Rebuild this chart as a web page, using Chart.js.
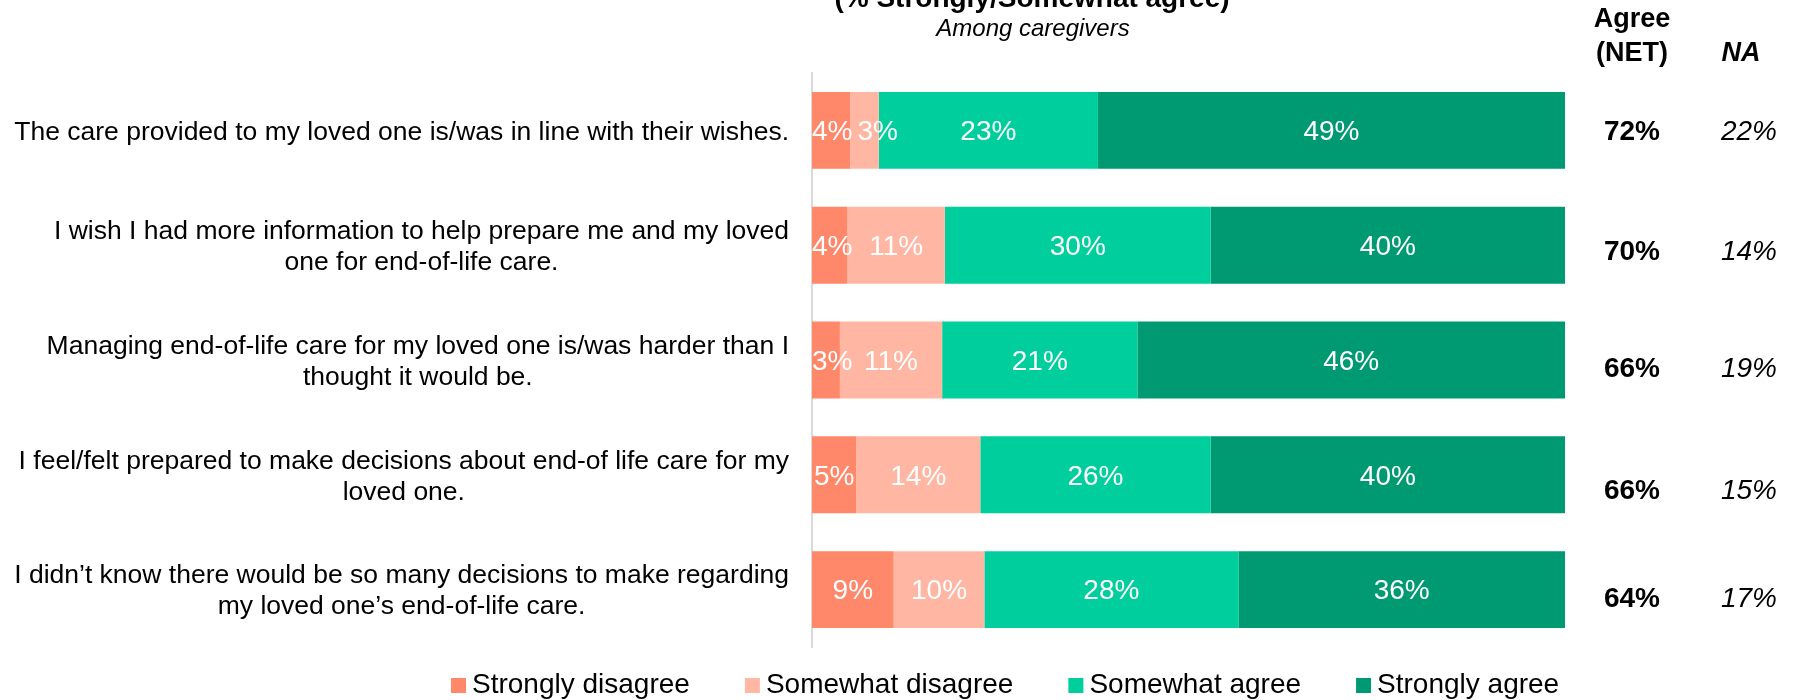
<!DOCTYPE html>
<html>
<head>
<meta charset="utf-8">
<script src="https://cdn.jsdelivr.net/npm/chart.js@4.4.0/dist/chart.umd.min.js"></script>
<style>
  body { margin: 0; background: #fff; }
  #box { width: 1794px; height: 700px; position: relative; }
</style>
</head>
<body>
<div id="box"><canvas id="grafico"></canvas></div>
<script>
const questions = [
  "The care provided to my loved one is/was in line with their wishes.",
  ["I wish I had more information to help prepare me and my loved", "one for end-of-life care."],
  ["Managing end-of-life care for my loved one is/was harder than I", "thought it would be."],
  ["I feel/felt prepared to make decisions about end-of life care for my", "loved one."],
  ["I didn\u2019t know there would be so many decisions to make regarding", "my loved one\u2019s end-of-life care."]
];
const seriesNames = ["Strongly disagree", "Somewhat disagree", "Somewhat agree", "Strongly agree"];
const stronglyDisagree = [4, 4, 3, 5, 9];
const somewhatDisagree = [3, 11, 11, 14, 10];
const somewhatAgree = [23, 30, 21, 26, 28];
const stronglyAgree = [49, 40, 46, 40, 36];
const agreeNet = [72, 70, 66, 66, 64];
const notApplicable = [22, 14, 19, 15, 17];

const colors = ["#FF876A", "#FFB7A4", "#00CE9C", "#009A72"];
const FONT = "'Liberation Sans', Arial, sans-serif";

// bars are shown as 100% stacks (NA excluded), so each row is scaled to its own total
const allSeries = [stronglyDisagree, somewhatDisagree, somewhatAgree, stronglyAgree];
const totals = questions.map((_, i) => allSeries.reduce((s, a) => s + a[i], 0));

const datasets = allSeries.map((vals, k) => ({
  label: seriesNames[k],
  raw: vals,
  data: vals.map((v, i) => v / totals[i] * 100),
  backgroundColor: colors[k],
  borderWidth: 0,
  barPercentage: 0.67,
  categoryPercentage: 1
}));

const segmentLabels = {
  id: "segmentLabels",
  afterDatasetsDraw(chart) {
    const ctx = chart.ctx;
    const left = chart.chartArea.left;
    ctx.save();
    ctx.font = "28px " + FONT;
    ctx.fillStyle = "#fff";
    ctx.textAlign = "left";
    ctx.textBaseline = "middle";
    const lastRight = questions.map(() => left);
    chart.data.datasets.forEach((ds, d) => {
      chart.getDatasetMeta(d).data.forEach((bar, i) => {
        const txt = ds.raw[i] + "%";
        const w = ctx.measureText(txt).width;
        // keep small labels inside the plot and clear of the one before
        let x = (bar.x + bar.base) / 2 - w / 2;
        x = Math.max(x, lastRight[i] + (d ? 5 : 0));
        ctx.fillText(txt, x, bar.y + 2);
        lastRight[i] = x + w;
      });
    });
    ctx.restore();
  }
};

// category labels: block right-aligned to the axis, lines centred inside the block
const questionLabels = {
  id: "questionLabels",
  afterDraw(chart) {
    const ctx = chart.ctx;
    const y = chart.scales.y;
    const right = chart.chartArea.left - 23;
    const lh = 31;
    ctx.save();
    ctx.font = "26.5px " + FONT;
    ctx.fillStyle = "#000";
    ctx.textAlign = "center";
    ctx.textBaseline = "middle";
    questions.forEach((q, i) => {
      const lines = Array.isArray(q) ? q : [q];
      const w = Math.max(...lines.map((l) => ctx.measureText(l).width));
      const cx = right - w / 2;
      const top = y.getPixelForValue(i) + 2 - (lines.length - 1) * lh / 2;
      lines.forEach((l, j) => ctx.fillText(l, cx, top + j * lh));
    });
    ctx.restore();
  }
};

const extraText = {
  id: "extraText",
  afterDraw(chart) {
    const ctx = chart.ctx;
    const y = chart.scales.y;
    ctx.save();
    ctx.fillStyle = "#000";
    ctx.textAlign = "center";
    ctx.textBaseline = "alphabetic";

    // title (top is cut off in the original)
    ctx.font = "bold 28px " + FONT;
    ctx.fillText("(% Strongly/Somewhat agree)", 1032, 7);
    ctx.font = "italic 24px " + FONT;
    ctx.fillText("Among caregivers", 1033, 36);

    // column headers
    ctx.font = "bold 27px " + FONT;
    ctx.fillText("Agree", 1632, 27);
    ctx.fillText("(NET)", 1632, 61);
    ctx.font = "italic bold 27px " + FONT;
    ctx.fillText("NA", 1741, 61);

    // NET / NA columns
    const shift = [2, 7, 9, 16, 10];
    ctx.textBaseline = "middle";
    agreeNet.forEach((v, i) => {
      const py = y.getPixelForValue(i) + shift[i];
      ctx.font = "bold 28px " + FONT;
      ctx.fillText(v + "%", 1632, py);
      ctx.font = "italic 28px " + FONT;
      ctx.fillText(notApplicable[i] + "%", 1749, py);
    });

    // legend
    ctx.font = "28px " + FONT;
    ctx.textAlign = "left";
    ctx.textBaseline = "alphabetic";
    let lx = 451;
    chart.data.datasets.forEach((ds) => {
      ctx.fillStyle = ds.backgroundColor;
      ctx.fillRect(lx, 678, 15, 15);
      ctx.fillStyle = "#000";
      ctx.fillText(ds.label, lx + 21, 693);
      lx += 21 + ctx.measureText(ds.label).width + 55;
    });
    ctx.restore();
  }
};

new Chart(document.getElementById("grafico"), {
  type: "bar",
  data: { labels: questions, datasets: datasets },
  plugins: [segmentLabels, questionLabels, extraText],
  options: {
    indexAxis: "y",
    responsive: true,
    maintainAspectRatio: false,
    animation: false,
    layout: { padding: { top: 73, bottom: 53, right: 229, left: 0 } },
    plugins: {
      legend: { display: false },
      tooltip: { enabled: false }
    },
    scales: {
      x: { stacked: true, min: 0, max: 100, display: false },
      y: {
        stacked: true,
        grid: { display: false, drawTicks: false },
        border: { display: true, color: "#d9d9d9", width: 2 },
        ticks: { display: false },
        afterFit(scale) { scale.width = 812; }
      }
    }
  }
});
</script>
</body>
</html>
